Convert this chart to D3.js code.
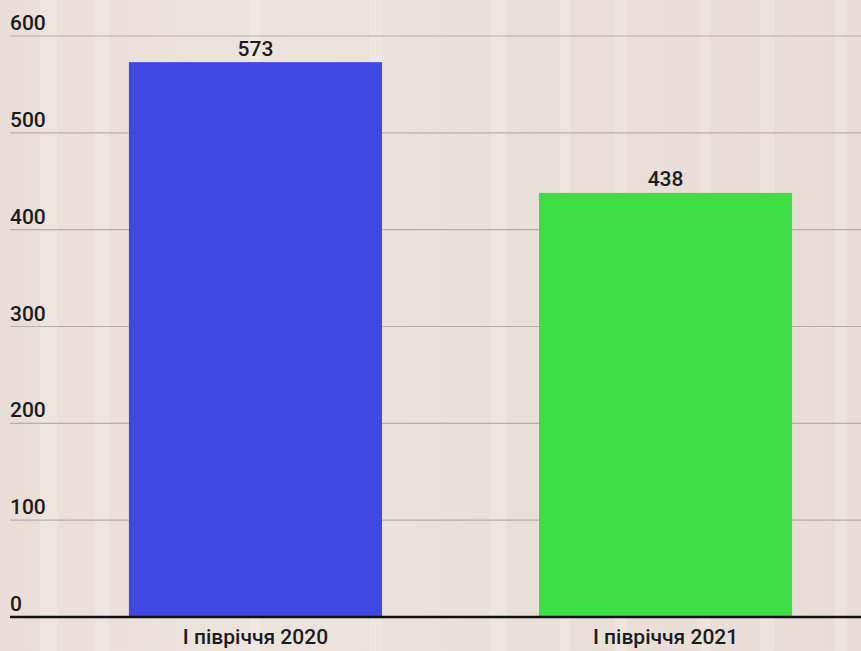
<!DOCTYPE html>
<html>
<head>
<meta charset="utf-8">
<script src="https://cdn.jsdelivr.net/npm/d3@7"></script>
<style>
  html, body { margin: 0; padding: 0; }
  body { width: 861px; height: 651px; overflow: hidden; background: #ebe2db; }
  svg { display: block; font-family: Roboto, "Noto Sans", sans-serif; }
</style>
</head>
<body>
<svg id="chart" width="861" height="651"></svg>
<script>
const categories = ["І півріччя 2020", "І півріччя 2021"];
const values = [573, 438];
const colors = ["#3f48e0", "#3ddd46"];
const yTicks = [0, 100, 200, 300, 400, 500, 600];

const W = 861, H = 651;
const svg = d3.select("#chart");

// background
const defs = svg.append("defs");
const g1 = defs.append("linearGradient").attr("id", "bg").attr("x1", 0).attr("x2", 1).attr("y1", 0).attr("y2", 0);
g1.append("stop").attr("offset", "0%").attr("stop-color", "#e9ddd8");
g1.append("stop").attr("offset", "30%").attr("stop-color", "#ece4dc");
g1.append("stop").attr("offset", "60%").attr("stop-color", "#e9dfd9");
g1.append("stop").attr("offset", "100%").attr("stop-color", "#e8dcd6");
svg.append("rect").attr("width", W).attr("height", H).attr("fill", "url(#bg)");
const stripes = [[40, 18], [95, 14], [250, 10], [370, 12], [490, 16], [560, 10], [615, 12], [700, 10], [760, 14], [835, 12]];
svg.append("g").selectAll("rect").data(stripes).join("rect")
  .attr("x", d => d[0]).attr("width", d => d[1]).attr("y", 0).attr("height", H)
  .attr("fill", "#f3ede6").attr("opacity", 0.4);

const x = d3.scaleBand().domain(categories).range([10, 911]).paddingInner(0.383).paddingOuter(0.29);
const y = d3.scaleLinear().domain([0, 600]).range([617, 36]);

// gridlines
svg.append("g").selectAll("line").data(yTicks.filter(t => t > 0)).join("line")
  .attr("x1", 10).attr("x2", W).attr("y1", d => y(d)).attr("y2", d => y(d))
  .attr("stroke", "#b9ada5").attr("stroke-width", 1.2);

// tick labels
svg.append("g").selectAll("text").data(yTicks).join("text")
  .attr("x", 10).attr("y", d => y(d) - 6)
  .attr("font-size", 21).attr("font-weight", 500).attr("fill", "#1c1c1c")
  .text(d => d);

// bars
svg.append("g").selectAll("rect").data(values).join("rect")
  .attr("x", (d, i) => x(categories[i])).attr("width", x.bandwidth())
  .attr("y", d => y(d)).attr("height", d => y(0) - y(d))
  .attr("fill", (d, i) => colors[i]);

// value labels
svg.append("g").selectAll("text").data(values).join("text")
  .attr("x", (d, i) => x(categories[i]) + x.bandwidth() / 2).attr("y", d => y(d) - 6.5)
  .attr("text-anchor", "middle").attr("font-size", 21).attr("font-weight", 500).attr("fill", "#1c1c1c")
  .text(d => d);

// baseline
svg.append("line").attr("x1", 10).attr("x2", W).attr("y1", y(0)).attr("y2", y(0))
  .attr("stroke", "#111").attr("stroke-width", 2.5);

// category labels
svg.append("g").selectAll("text").data(categories).join("text")
  .attr("x", d => x(d) + x.bandwidth() / 2).attr("y", 644)
  .attr("text-anchor", "middle").attr("font-size", 21).attr("font-weight", 500).attr("fill", "#1c1c1c")
  .text(d => d);
</script>
</body>
</html>
